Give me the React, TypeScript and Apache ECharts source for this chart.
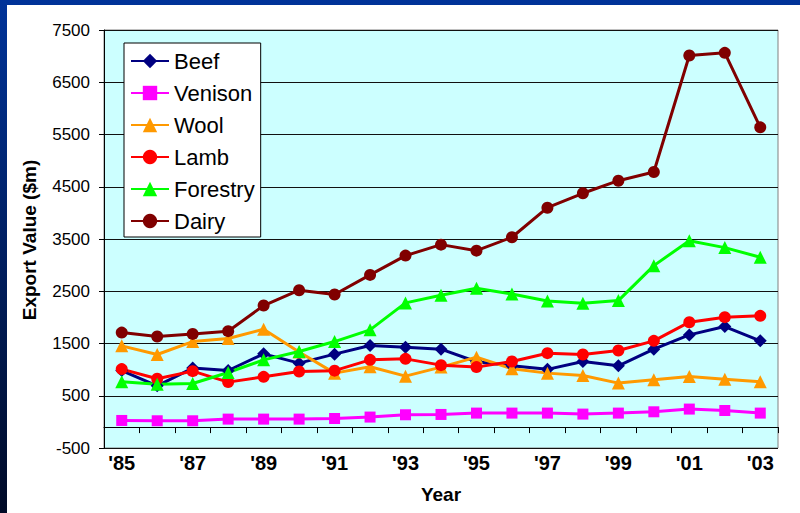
import React, { useEffect, useRef } from 'react';
import * as echarts from 'echarts';

const years = ["'85", "'86", "'87", "'88", "'89", "'90", "'91", "'92", "'93", "'94", "'95", "'96", "'97", "'98", "'99", "'00", "'01", "'02", "'03"];
const beef = [983, 690, 1029, 983, 1302, 1124, 1296, 1461, 1430, 1392, 1150, 1075, 1005, 1155, 1073, 1392, 1665, 1824, 1551];
const venison = [27, 21, 21, 53, 53, 53, 65, 92, 136, 142, 168, 168, 168, 149, 168, 193, 245, 218, 168];
const wool = [1455, 1289, 1537, 1595, 1774, 1336, 933, 1055, 875, 1048, 1239, 1015, 933, 888, 742, 805, 868, 818, 767];
const lamb = [1010, 824, 971, 761, 862, 964, 980, 1187, 1206, 1086, 1048, 1155, 1315, 1289, 1365, 1551, 1908, 2004, 2029];
const forestry = [767, 722, 735, 945, 1187, 1346, 1537, 1761, 2277, 2424, 2558, 2446, 2312, 2271, 2321, 2990, 3468, 3335, 3151];
const dairy = [1709, 1633, 1684, 1736, 2226, 2520, 2437, 2813, 3182, 3392, 3277, 3533, 4099, 4375, 4616, 4782, 7013, 7063, 5637];

const yTickLabels = ['-500', '500', '1500', '2500', '3500', '4500', '5500', '6500', '7500'];

const FONT = "'Liberation Sans', Arial, sans-serif";

const seriesDefs = [
  { name: 'Beef', data: beef, color: '#000080', symbol: 'diamond', size: 13 },
  { name: 'Venison', data: venison, color: '#FF00FF', symbol: 'rect', size: 11 },
  { name: 'Wool', data: wool, color: '#FF9900', symbol: 'triangle', size: 13 },
  { name: 'Lamb', data: lamb, color: '#FF0000', symbol: 'circle', size: 12 },
  { name: 'Forestry', data: forestry, color: '#00FF00', symbol: 'triangle', size: 13 },
  { name: 'Dairy', data: dairy, color: '#800000', symbol: 'circle', size: 12 },
];

export default function App() {
  const ref = useRef<HTMLDivElement>(null);
  useEffect(() => {
    document.body.style.margin = '0';
    const chart = echarts.init(ref.current!, null, { renderer: 'svg' });
    const option: any = {
      animation: false,
      backgroundColor: '#ffffff',
      grid: {
        left: 97,
        top: 25,
        right: 22,
        bottom: 65,
        show: true,
        backgroundColor: '#CCFFFF',
        borderColor: '#808080',
        borderWidth: 1,
      },
      legend: {
        orient: 'vertical',
        left: 117,
        top: 38,
        itemWidth: 38,
        itemHeight: 18,
        itemGap: 6,
        padding: [5, 6, 3, 6],
        backgroundColor: '#ffffff',
        borderColor: '#000000',
        borderWidth: 1,
        selectedMode: false,
        textStyle: { fontSize: 22, lineHeight: 26, color: '#000', fontFamily: FONT },
        data: seriesDefs.map((s) => s.name),
      },
      xAxis: {
        type: 'category',
        data: years,
        boundaryGap: true,
        axisLine: { show: true, onZero: true, onZeroAxisIndex: 2, lineStyle: { color: '#000', width: 1 } },
        axisTick: { show: true, interval: 0, length: 6, lineStyle: { color: '#000', width: 1 } },
        axisLabel: { interval: 1, margin: 5, fontSize: 20, fontWeight: 'bold', color: '#000', fontFamily: FONT },
        splitLine: { show: false },
      },
      yAxis: [
        { type: 'value', min: -500, max: 7500, show: false },
        {
          type: 'value',
          position: 'left',
          min: 0,
          max: 8000,
          interval: 1000,
          axisLine: { show: true, onZero: false, lineStyle: { color: '#000', width: 1 } },
          axisTick: { show: true, length: 5, lineStyle: { color: '#000', width: 1 } },
          axisLabel: {
            margin: 14,
            fontSize: 17,
            color: '#000',
            fontFamily: FONT,
            formatter: (_v: number, i: number) => yTickLabels[i] ?? '',
          },
          splitLine: { show: true, lineStyle: { color: '#111', width: 1 } },
        },
        { type: 'value', min: -400, max: 7600, show: false },
      ],
      graphic: [
        {
          type: 'text',
          x: 22,
          y: 235,
          rotation: Math.PI / 2,
          style: {
            text: 'Export Value ($m)',
            font: `bold 19px ${FONT}`,
            fill: '#000',
            align: 'center',
            verticalAlign: 'middle',
          },
        },
        {
          type: 'text',
          x: 434,
          y: 489,
          style: {
            text: 'Year',
            font: `bold 19px ${FONT}`,
            fill: '#000',
            align: 'center',
            verticalAlign: 'middle',
          },
        },
      ],
      series: seriesDefs.map((s) => ({
        name: s.name,
        type: 'line',
        data: s.data,
        yAxisIndex: 0,
        symbol: s.symbol,
        symbolSize: s.size,
        showAllSymbol: true,
        lineStyle: { color: s.color, width: 3 },
        itemStyle: { color: s.color },
        emphasis: { disabled: true },
      })),
    };
    chart.setOption(option);
    return () => chart.dispose();
  }, []);
  return (
    <div
      style={{
        position: 'relative',
        width: 800,
        height: 513,
        background: 'linear-gradient(to bottom, #003399, #000a26)',
        overflow: 'hidden',
      }}
    >
      <div
        ref={ref}
        style={{ position: 'absolute', left: 7, top: 5, width: 793, height: 508 }}
      />
    </div>
  );
}
